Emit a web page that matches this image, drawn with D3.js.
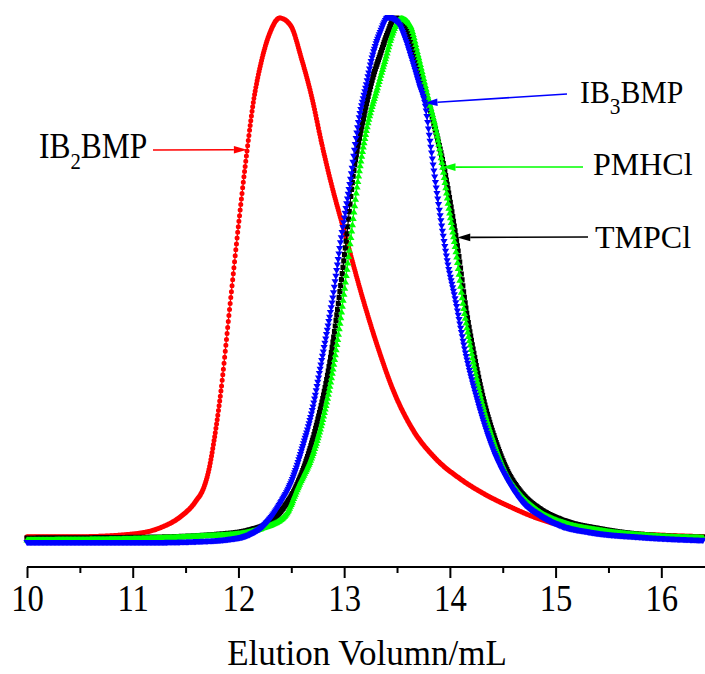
<!DOCTYPE html>
<html>
<head>
<meta charset="utf-8">
<script src="https://cdn.jsdelivr.net/npm/d3@7"></script>
<style>
  html, body { margin: 0; padding: 0; background: #fff; }
  svg { display: block; }
  text { font-family: "Times New Roman", "Liberation Serif", serif; fill: #000; }
</style>
</head>
<body>
<svg id="chart" width="705" height="674"></svg>
<script>
// ---------------- DATA ----------------
// Elution volume (mL) and normalised detector response for each sample
const xTicks = [10, 11, 12, 13, 14, 15, 16];
const xMinorTicks = [10.5, 11.5, 12.5, 13.5, 14.5, 15.5];
const xTitle = "Elution Volumn/mL";

const ib2Vol = [10.00,10.50,11.00,11.26,11.45,11.59,11.68,11.72,11.77,11.83,11.92,12.01,12.08,12.14,12.22,12.30,12.39,
                12.49,12.60,12.70,12.78,12.87,13.01,13.18,13.32,13.47,13.64,13.86,14.10,14.33,14.57,14.90,15.42,15.99,16.40];
const ib2Sig = [0.012,0.012,0.017,0.029,0.050,0.078,0.110,0.139,0.196,0.282,0.453,0.623,0.745,0.838,0.920,0.973,1.000,
                0.987,0.920,0.844,0.768,0.691,0.587,0.463,0.372,0.288,0.219,0.162,0.122,0.093,0.069,0.042,0.023,0.015,0.012];

const tmpVol = [10.00,11.16,11.83,12.11,12.28,12.41,12.54,12.65,12.75,12.86,12.95,13.02,13.08,13.18,13.27,13.34,13.41,13.48,
                13.57,13.67,13.77,13.86,13.94,14.00,14.09,14.14,14.23,14.32,14.43,14.54,14.68,14.85,15.06,15.42,15.89,16.40];
const tmpSig = [0.0095,0.011,0.017,0.025,0.038,0.063,0.105,0.162,0.234,0.339,0.463,0.577,0.691,0.806,0.886,0.930,0.971,1.000,
                0.990,0.926,0.859,0.790,0.720,0.653,0.539,0.463,0.358,0.272,0.196,0.139,0.095,0.065,0.044,0.027,0.015,0.011];

const pmhVol = [10.00,10.69,11.64,12.02,12.22,12.44,12.58,12.70,12.80,12.90,12.99,13.06,13.13,13.22,13.32,13.40,13.46,13.54,
                13.62,13.70,13.79,13.87,13.93,13.98,14.07,14.12,14.21,14.30,14.41,14.52,14.66,14.83,15.04,15.42,15.89,16.40];
const pmhSig = [0.0067,0.0076,0.014,0.019,0.029,0.053,0.114,0.168,0.238,0.339,0.463,0.577,0.691,0.796,0.872,0.930,0.973,1.000,
                0.989,0.930,0.853,0.787,0.720,0.653,0.539,0.463,0.358,0.272,0.196,0.139,0.095,0.063,0.042,0.025,0.015,0.011];

const ib3Vol = [10.00,11.16,11.64,11.92,12.11,12.25,12.39,12.51,12.60,12.70,12.79,12.89,12.97,13.06,13.14,13.21,13.26,13.34,13.42,
                13.51,13.58,13.64,13.71,13.77,13.81,13.86,13.92,13.98,14.05,14.15,14.27,14.40,14.54,14.68,14.85,15.04,15.33,15.80,16.40];
const ib3Sig = [0,0,0.002,0.006,0.015,0.034,0.072,0.120,0.177,0.253,0.349,0.463,0.577,0.691,0.806,0.872,0.920,0.971,1.000,
                0.989,0.958,0.920,0.872,0.829,0.768,0.691,0.606,0.530,0.463,0.358,0.263,0.181,0.120,0.078,0.051,0.032,0.019,0.010,0.004];

// drawing order: bottom -> top
const series = [
  { name: "IB2BMP", vol: ib2Vol, sig: ib2Sig, color: "#ff0000", marker: "circle", step: 0.6 },
  { name: "TMPCl",  vol: tmpVol, sig: tmpSig, color: "#000000", marker: "square", step: 0.75 },
  { name: "PMHCl",  vol: pmhVol, sig: pmhSig, color: "#00ff00", marker: "up",     step: 0.75 },
  { name: "IB3BMP", vol: ib3Vol, sig: ib3Sig, color: "#0000ff", marker: "down",   step: 0.75 }
];

// annotations: label text, arrow tip in data units
const annotations = [
  { main1: "IB", sub: "2", main2: "BMP", color: "#ff0000", tipVol: 12.08, tipSig: 0.749, tail: [153, 150], label: [39, 158], fs: 35, sx: 0.9 },
  { main1: "IB", sub: "3", main2: "BMP", color: "#0000ff", tipVol: 13.76, tipSig: 0.838, tail: [567, 94],  label: [580, 103], fs: 32, sx: 0.93 },
  { main1: "PMHCl", sub: "", main2: "",  color: "#00ff00", tipVol: 13.93, tipSig: 0.716, tail: [583, 167], label: [593, 175], fs: 32, sx: 1 },
  { main1: "TMPCl", sub: "", main2: "",  color: "#000000", tipVol: 14.07, tipSig: 0.582, tail: [588, 237], label: [595, 248], fs: 32, sx: 1 }
];

// ---------------- CHART ----------------
const svg = d3.select("#chart");
const x = d3.scaleLinear().domain([10, 16.4]).range([27, 703.6]);
const y = d3.scaleLinear().domain([0, 1]).range([543, 18]);
const axisY = 567;

// axis
const gMinor = svg.append("g").attr("transform", `translate(0,${axisY})`)
  .call(d3.axisBottom(x).tickValues(xMinorTicks).tickSize(6).tickSizeOuter(0).tickFormat(""));
const gMajor = svg.append("g").attr("transform", `translate(0,${axisY})`)
  .call(d3.axisBottom(x).tickValues(xTicks).tickSize(11).tickSizeOuter(0).tickFormat(d3.format("d")));
[gMinor, gMajor].forEach(g => {
  g.select(".domain").attr("stroke", "#000").attr("stroke-width", 2).attr("d", `M27,0H705`);
  g.selectAll(".tick line").attr("stroke", "#000").attr("stroke-width", 2);
});
gMajor.selectAll(".tick text")
  .attr("y", 0).attr("dy", 0)
  .attr("transform", "translate(0,44) scale(0.86,1)")
  .style("font-family", '"Times New Roman", "Liberation Serif", serif')
  .style("font-size", "38px").attr("fill", "#000");

svg.append("text").attr("x", 367).attr("y", 665).attr("text-anchor", "middle")
  .style("font-size", "35px").text(xTitle);

// curves
const lineGen = d3.line().curve(d3.curveMonotoneX);

function markerShape(type, px, py) {
  if (type === "circle") {
    const r = 2.5;
    return `M${px - r},${py}a${r},${r} 0 1,0 ${2 * r},0a${r},${r} 0 1,0 ${-2 * r},0Z`;
  } else if (type === "square") {
    const a = 2.6;
    return `M${px - a},${py - a}h${2 * a}v${2 * a}h${-2 * a}Z`;
  } else if (type === "up") {
    const s = 3.6, h = 6;
    return `M${px - s},${py + h / 2}L${px + s},${py + h / 2}L${px},${py - h / 2}Z`;
  } else {
    const s = 3.6, h = 6;
    return `M${px - s},${py - h / 2}L${px + s},${py - h / 2}L${px},${py + h / 2}Z`;
  }
}

series.forEach(s => {
  const pts = s.vol.map((v, i) => [x(v), y(s.sig[i])]);
  const path = svg.append("path")
    .attr("d", lineGen(pts))
    .attr("fill", "none")
    .attr("stroke", s.color)
    .attr("stroke-width", 1.2);
  // dense point markers placed along the drawn curve
  const node = path.node();
  const L = node.getTotalLength();
  let nextX = -Infinity;
  let d = "";
  for (let l = 0; l <= L; l += 0.4) {
    const p = node.getPointAtLength(l);
    if (p.x >= nextX) {
      d += markerShape(s.marker, p.x, p.y);
      nextX = p.x + s.step;
    }
  }
  svg.append("path").attr("d", d).attr("fill", s.color).attr("stroke", "none");
});

// annotations
annotations.forEach(a => {
  const tx = x(a.tipVol), ty = y(a.tipSig);
  const [sx, sy] = a.tail;
  const dx = tx - sx, dy = ty - sy;
  const len = Math.hypot(dx, dy);
  const ux = dx / len, uy = dy / len;
  const hl = 13, hw = 3.8;
  const bx = tx - ux * hl, by = ty - uy * hl;
  svg.append("line").attr("x1", sx).attr("y1", sy).attr("x2", bx).attr("y2", by)
    .attr("stroke", a.color).attr("stroke-width", 1.6);
  svg.append("path")
    .attr("d", `M${tx},${ty}L${bx - uy * hw},${by + ux * hw}L${bx + uy * hw},${by - ux * hw}Z`)
    .attr("fill", a.color);
  const t = svg.append("text")
    .attr("transform", `translate(${a.label[0]},${a.label[1]}) scale(${a.sx},1)`)
    .style("font-size", a.fs + "px");
  t.append("tspan").text(a.main1);
  if (a.sub) {
    t.append("tspan").attr("dy", 11).style("font-size", "23px").text(a.sub);
    t.append("tspan").attr("dy", -11).style("font-size", a.fs + "px").text(a.main2);
  }
});
</script>
</body>
</html>
